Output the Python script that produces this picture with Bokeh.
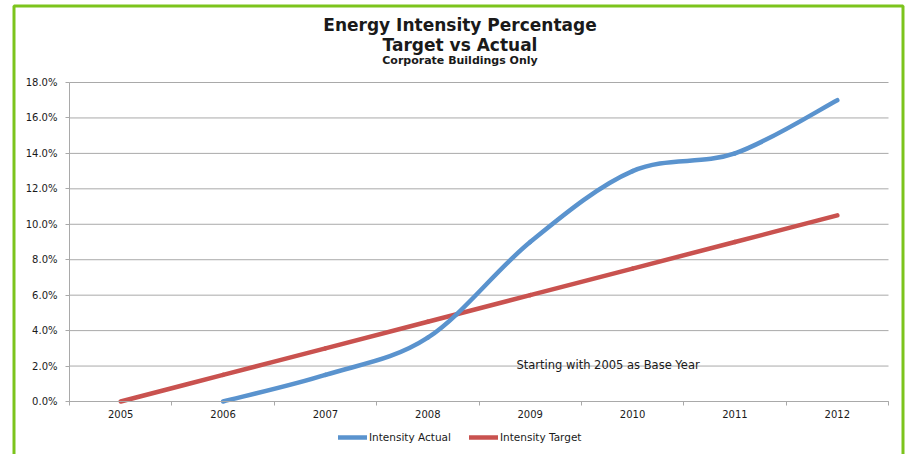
from bokeh.plotting import figure
from bokeh.models import (Range1d, FixedTicker, NumeralTickFormatter, Label,
                          Legend, LegendItem, BoxAnnotation)
from bokeh.embed import file_html
from bokeh.resources import INLINE

# ---- data -------------------------------------------------------------
years = ["2005", "2006", "2007", "2008", "2009", "2010", "2011", "2012"]
intensity_actual = [None, 0.000, 0.015, 0.036, 0.090, 0.130, 0.140, 0.170]
intensity_target = [0.000, 0.015, 0.030, 0.045, 0.060, 0.075, 0.090, 0.105]
y_ticks = [0.00, 0.02, 0.04, 0.06, 0.08, 0.10, 0.12, 0.14, 0.16, 0.18]

# ---- page geometry (pixels) ---------------------------------------------
W, H = 908, 454
FL, FR, FT, FB = 69, 888, 82, 401          # plotting area inside the page

# ---- styling ------------------------------------------------------------
FONT = "DejaVu Sans"
BLUE, RED = "#5A93CE", "#C9524F"
GRID = "#A9A9A9"
GREEN = "#7CC41C"
TXT = "#1a1a1a"

n = len(years)
xs = [i + 0.5 for i in range(n)]           # category centres
y_top = y_ticks[-1]

# the canvas spans the whole page; these map page pixels to data units
PX_PER_X = (FR - FL) / n
PX_PER_Y = (FB - FT) / y_top


def X(px):
    return (px - FL) / PX_PER_X


def Y(py):
    return (FB - py) / PX_PER_Y


def smooth_segments(x, y):
    """Cubic Bezier segments through the points (Catmull-Rom style)."""
    pts = [(a, b) for a, b in zip(x, y) if b is not None]
    m = len(pts)
    seg = dict(x0=[], y0=[], x1=[], y1=[], cx0=[], cy0=[], cx1=[], cy1=[])
    for i in range(m - 1):
        p0 = pts[max(i - 1, 0)]
        p1 = pts[i]
        p2 = pts[i + 1]
        p3 = pts[min(i + 2, m - 1)]
        seg["x0"].append(p1[0]); seg["y0"].append(p1[1])
        seg["x1"].append(p2[0]); seg["y1"].append(p2[1])
        seg["cx0"].append(p1[0] + (p2[0] - p0[0]) / 6)
        seg["cy0"].append(p1[1] + (p2[1] - p0[1]) / 6)
        seg["cx1"].append(p2[0] - (p3[0] - p1[0]) / 6)
        seg["cy1"].append(p2[1] - (p3[1] - p1[1]) / 6)
    return seg


p = figure(width=W, height=H, output_backend="svg", toolbar_location=None,
           x_range=Range1d(X(0), X(W)), y_range=Range1d(Y(H), Y(0)),
           min_border=0, min_border_left=0, min_border_right=0,
           min_border_top=0, min_border_bottom=0)
p.outline_line_color = None
p.background_fill_color = "white"
p.border_fill_color = "white"

# axes pinned to the value origin
p.xaxis.fixed_location = 0
p.xaxis.bounds = (0, n)
p.xaxis.ticker = FixedTicker(ticks=xs, minor_ticks=list(range(n + 1)))
p.xaxis.major_label_overrides = {x: y for x, y in zip(xs, years)}
p.xaxis.major_tick_line_color = None
p.xaxis.major_tick_out = 0
p.xaxis.major_tick_in = 0
p.xaxis.minor_tick_in = 0
p.xaxis.minor_tick_out = 4
p.xaxis.minor_tick_line_color = GRID
p.xaxis.axis_line_color = GRID
p.xaxis.major_label_standoff = 4
p.xaxis.major_label_text_font = FONT
p.xaxis.major_label_text_font_size = "10px"
p.xaxis.major_label_text_color = TXT

p.yaxis.fixed_location = 0
p.yaxis.bounds = (0, y_top)
p.yaxis.ticker = FixedTicker(ticks=y_ticks)
p.yaxis.formatter = NumeralTickFormatter(format="0.0%")
p.yaxis.axis_line_color = GRID
p.yaxis.major_tick_line_color = GRID
p.yaxis.major_tick_in = 0
p.yaxis.major_tick_out = 4
p.yaxis.minor_tick_line_color = None
p.yaxis.major_label_standoff = 8
p.yaxis.major_label_text_font = FONT
p.yaxis.major_label_text_font_size = "10px"
p.yaxis.major_label_text_color = TXT

p.xgrid.visible = False
p.ygrid.visible = False
# horizontal gridlines across the category span only
p.segment(x0=[0] * len(y_ticks), x1=[n] * len(y_ticks), y0=y_ticks, y1=y_ticks,
          line_color=GRID, line_width=1)

# series
r_target = p.bezier(line_color=RED, line_width=4.5, line_cap="round",
                    **smooth_segments(xs, intensity_target))
r_actual = p.bezier(line_color=BLUE, line_width=4.5, line_cap="round",
                    **smooth_segments(xs, intensity_actual))

legend = Legend(items=[LegendItem(label="Intensity Actual", renderers=[r_actual]),
                       LegendItem(label="Intensity Target", renderers=[r_target])],
                orientation="horizontal", location=(338, 11),
                glyph_width=29, glyph_height=12, label_standoff=2, spacing=18,
                padding=0, margin=0, border_line_color=None,
                background_fill_alpha=0,
                label_text_font=FONT, label_text_font_size="10.5px",
                label_text_color=TXT)
p.add_layout(legend, "center")

# titles
for txt, size, base in [("Energy Intensity Percentage", "17px", 24.0),
                        ("Target vs Actual", "17px", 44.5),
                        ("Corporate Buildings Only", "11px", 59.5)]:
    p.add_layout(Label(x=X(459.5), y=Y(base), text=txt, text_font=FONT,
                       text_font_style="bold", text_font_size=size,
                       text_align="center", text_baseline="alphabetic",
                       text_color=TXT))

p.add_layout(Label(x=X(516), y=Y(364), text="Starting with 2005 as Base Year",
                   text_font=FONT, text_font_size="11.5px",
                   text_align="left", text_baseline="alphabetic", text_color=TXT))

# green frame around the page
p.add_layout(BoxAnnotation(left=X(13.5), right=X(902.5), top=Y(5.5), bottom=Y(470),
                           fill_alpha=0, line_color=GREEN, line_alpha=1.0,
                           line_width=3))

open("out.html", "w").write(file_html(p, INLINE))
